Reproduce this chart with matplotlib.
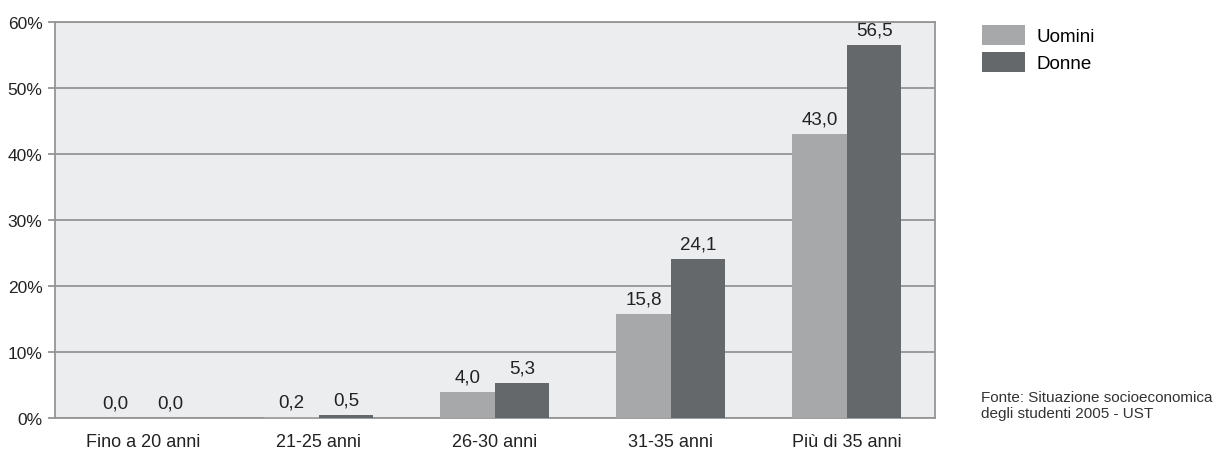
import numpy as np
import matplotlib.pyplot as plt

plt.rcParams['font.family'] = ['Liberation Sans', 'DejaVu Sans']

# Data
categories = ['Fino a 20 anni', '21-25 anni', '26-30 anni', '31-35 anni', 'Più di 35 anni']
uomini = [0.0, 0.2, 4.0, 15.8, 43.0]
donne = [0.0, 0.5, 5.3, 24.1, 56.5]
yticks = [0, 10, 20, 30, 40, 50, 60]

c_uomini = '#a6a8a9'
c_donne = '#65686a'
c_grid = '#939596'

fig = plt.figure(figsize=(12.22, 4.77), dpi=100)
ax = fig.add_axes([0.045, 0.1216, 0.72, 0.830])
ax.set_facecolor('#ecedee')

x = np.arange(len(categories))
w = 0.31
b1 = ax.bar(x - w / 2, uomini, w, color=c_uomini, label='Uomini', zorder=3)
b2 = ax.bar(x + w / 2, donne, w, color=c_donne, label='Donne', zorder=3)

for bars, vals in [(b1, uomini), (b2, donne)]:
    for rect, v in zip(bars, vals):
        ax.text(rect.get_x() + rect.get_width() / 2, v + 1.0,
                f'{v:.1f}'.replace('.', ','), ha='center', va='bottom',
                fontsize=13.5, color='#222222')

ax.set_xlim(-0.5, len(categories) - 0.5)
ax.set_ylim(0, 60)
ax.set_yticks(yticks)
ax.set_yticklabels([f'{t}%' for t in yticks], fontsize=12.5, color='#222222')
ax.set_xticks(x)
ax.set_xticklabels(categories, fontsize=13, color='#222222')
ax.tick_params(axis='x', length=0, pad=11)
ax.tick_params(axis='y', length=5, color=c_grid, width=1.3, pad=4)
ax.yaxis.grid(True, color=c_grid, linewidth=1.3, zorder=1)
for s in ax.spines.values():
    s.set_color(c_grid)
    s.set_linewidth(1.3)

fig.legend(handles=[b1, b2], labels=['Uomini', 'Donne'], loc='upper left',
           bbox_to_anchor=(0.7975, 0.962), frameon=False, fontsize=13.5,
           handlelength=2.3, handleheight=1.3, handletextpad=0.6,
           labelspacing=0.35, borderaxespad=0)

fig.text(0.803, 0.118, 'Fonte: Situazione socioeconomica\ndegli studenti 2005 - UST',
         fontsize=11, color='#333333', va='bottom', linespacing=1.2)

fig.savefig('out.png', dpi=100, facecolor='white')
